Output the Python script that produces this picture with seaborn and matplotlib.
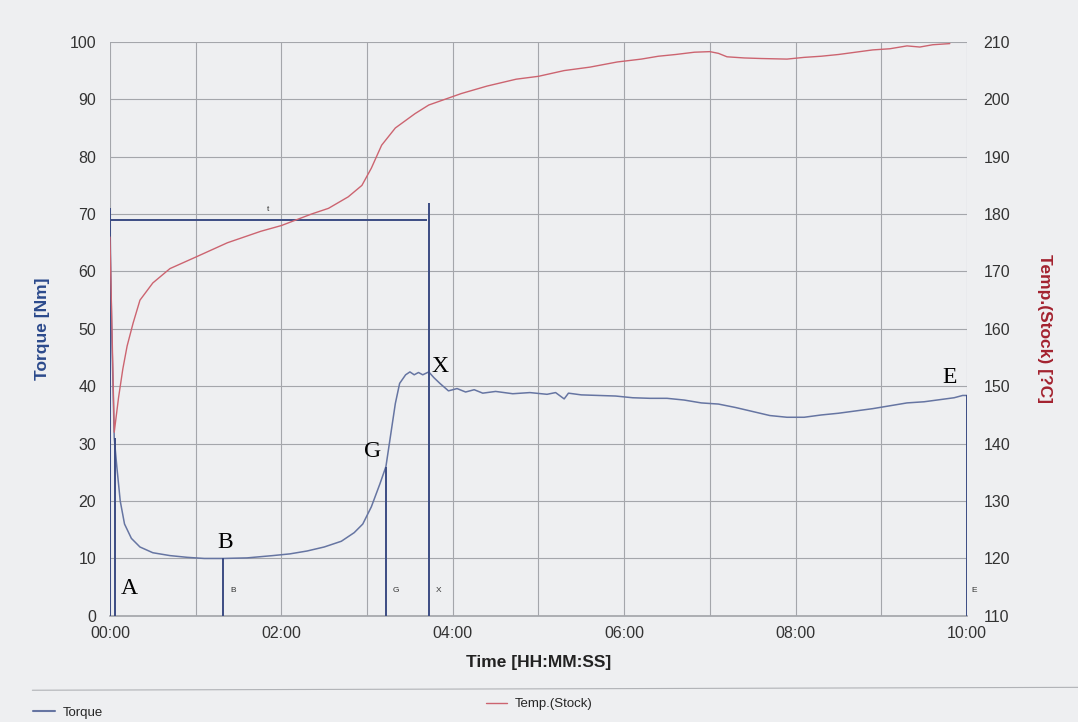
import numpy as np
import pandas as pd
import matplotlib
matplotlib.use("Agg")
import matplotlib.pyplot as plt
from matplotlib.ticker import FuncFormatter
from matplotlib.lines import Line2D
import seaborn as sns

# ---------------- data ----------------
torque_t = [0.00, 0.02, 0.05, 0.08, 0.12, 0.17, 0.25, 0.35, 0.50, 0.70, 0.90, 1.10, 1.32,
            1.60, 1.90, 2.10, 2.30, 2.50, 2.70, 2.85, 2.95, 3.05, 3.15, 3.22, 3.28, 3.33,
            3.38, 3.45, 3.50, 3.55, 3.60, 3.65, 3.72, 3.78, 3.85, 3.95, 4.05, 4.15, 4.25,
            4.35, 4.50, 4.70, 4.90, 5.10, 5.20, 5.30, 5.35, 5.50, 5.70, 5.90, 6.10, 6.30,
            6.50, 6.70, 6.90, 7.10, 7.30, 7.50, 7.70, 7.90, 8.10, 8.30, 8.50, 8.70, 8.90,
            9.10, 9.30, 9.50, 9.70, 9.85, 9.95, 10.00]
torque_v = [69, 50, 31, 26, 20, 16, 13.5, 12, 11, 10.5, 10.2, 10, 10,
            10.1, 10.5, 10.8, 11.3, 12, 13, 14.5, 16, 19, 23, 26, 32, 37,
            40.5, 42, 42.5, 42, 42.4, 42, 42.5, 41.5, 40.5, 39.2, 39.6, 39, 39.4,
            38.8, 39.1, 38.7, 38.9, 38.6, 38.9, 37.8, 38.8, 38.5, 38.4, 38.3, 38.0, 37.9,
            37.9, 37.6, 37.1, 36.9, 36.3, 35.6, 34.9, 34.6, 34.6, 35.0, 35.3, 35.7, 36.1,
            36.6, 37.1, 37.3, 37.7, 38.0, 38.4, 38.4]

temp_t = [0.00, 0.05, 0.10, 0.15, 0.20, 0.27, 0.35, 0.50, 0.70, 1.00, 1.37, 1.76, 2.00,
          2.35, 2.55, 2.78, 2.94, 3.05, 3.17, 3.33, 3.56, 3.72, 4.10, 4.40, 4.74, 5.00,
          5.30, 5.60, 5.92, 6.20, 6.40, 6.60, 6.82, 7.00, 7.10, 7.20, 7.40, 7.60, 7.90,
          8.10, 8.30, 8.50, 8.70, 8.90, 9.10, 9.30, 9.45, 9.60, 9.80]
temp_v = [176, 142, 148, 153, 157, 161, 165, 168, 170.5, 172.5, 175, 177, 178,
          180, 181, 183, 185, 188, 192, 195, 197.5, 199, 201, 202.3, 203.5, 204,
          205, 205.6, 206.5, 207, 207.5, 207.8, 208.2, 208.3, 208.0, 207.4, 207.2, 207.1, 207.0,
          207.3, 207.5, 207.8, 208.2, 208.6, 208.8, 209.3, 209.1, 209.5, 209.7]

marker_t = [0.00, 0.06, 1.32, 3.22, 3.72, 10.00]
marker_top = [71, 31, 10, 26, 72, 38.4]
small_labels = ["", "", "B", "G", "X", "E"]

big_labels = ["A", "B", "G", "X", "E"]
big_label_t = [0.22, 1.35, 3.07, 3.85, 9.80]
big_label_v = [4.7, 12.8, 28.6, 43.4, 41.6]

bracket_y = 69
bracket_t = [0.00, 3.70]

x_ticks_min = list(range(0, 11))
torque_ticks = list(range(0, 101, 10))
temp_ticks = list(range(110, 211, 10))

# ---------------- style ----------------
bg = "#eeeff1"
sns.set_theme(style="whitegrid", rc={"axes.facecolor": bg, "figure.facecolor": bg,
                                     "grid.color": "#a4a6ab", "grid.linewidth": 0.8})
plt.rcParams['font.family'] = ['Liberation Sans', 'DejaVu Sans']

fig = plt.figure(figsize=(10.78, 7.22), dpi=100)
ax = fig.add_axes([0.102, 0.147, 0.795, 0.795])
ax2 = ax.twinx()

torque_col = "#6675a2"
temp_col = "#cc6470"
mark_col = "#3c4c84"

df_t = pd.DataFrame({"t": torque_t, "Torque": torque_v})
df_c = pd.DataFrame({"t": temp_t, "Temp": temp_v})

sns.lineplot(data=df_t, x="t", y="Torque", ax=ax, color=torque_col, lw=1.1, zorder=3)
sns.lineplot(data=df_c, x="t", y="Temp", ax=ax2, color=temp_col, lw=1.0, zorder=3)

# marker lines
ax.vlines(marker_t, 0, marker_top, color=mark_col, lw=1.4, zorder=4)
ax.hlines(bracket_y, bracket_t[0], bracket_t[1], color=mark_col, lw=1.4, zorder=4)
ax.text(sum(bracket_t) / 2, bracket_y + 1.2, "t", fontsize=6, ha="center", va="bottom", color="#333333")
for t, s in zip(marker_t, small_labels):
    if s:
        ax.text(t + 0.08 if t < 9.9 else t + 0.05, 4.5, s, fontsize=6, ha="left", va="center", color="#333333")

for s, t, v in zip(big_labels, big_label_t, big_label_v):
    ax.text(t, v, s, fontsize=17, family=["Liberation Serif", "DejaVu Serif"],
            ha="center", va="center", color="black", zorder=6)

# axes setup
ax.set_xlim(0, 10)
ax.set_ylim(0, 100)
ax2.set_ylim(110, 210)
ax.set_xticks(x_ticks_min)
ax.xaxis.set_major_formatter(FuncFormatter(lambda v, p: f"{int(round(v)):02d}:00" if int(round(v)) % 2 == 0 else ""))
ax.set_yticks(torque_ticks)
ax2.set_yticks(temp_ticks)
ax2.grid(False)
ax.grid(True, color="#a4a6ab", lw=0.8)

for a in (ax, ax2):
    for sp in a.spines.values():
        sp.set_visible(False)
ax.spines["bottom"].set_visible(True)
ax.spines["bottom"].set_color("#a4a6ab")

ax.tick_params(axis="x", labelsize=11.5, colors="#a4a6ab", labelcolor="#333333",
               length=5, width=0.8, direction="inout", pad=5)
ax.tick_params(axis="y", labelsize=11.5, labelcolor="#333333", length=0, pad=10)
ax2.tick_params(axis="y", labelsize=11.5, labelcolor="#333333", length=0, pad=12)

ax.set_xlabel("Time [HH:MM:SS]", fontsize=12.5, fontweight="bold", color="#222222", labelpad=10)
ax.set_ylabel("Torque [Nm]", fontsize=12.5, fontweight="bold", color="#2b4a8c", labelpad=14)
ax2.set_ylabel("Temp.(Stock) [?C]", fontsize=12.5, fontweight="bold", color="#a3222f",
               rotation=270, labelpad=30)

# legend area separator and legend entries
fig.add_artist(Line2D([0.03, 1.0], [0.044, 0.048], transform=fig.transFigure, color="#b0b2b6", lw=0.8))
h1 = Line2D([], [], color=torque_col, lw=1.5)
h2 = Line2D([], [], color=temp_col, lw=1.0)
fig.legend([h1], ["Torque"], loc="lower left", bbox_to_anchor=(0.02, -0.012), frameon=False,
           fontsize=9.5, handlelength=1.6, handletextpad=0.6)
fig.legend([h2], ["Temp.(Stock)"], loc="lower left", bbox_to_anchor=(0.44, 0.0), frameon=False,
           fontsize=9.5, handlelength=1.6, handletextpad=0.6)

fig.savefig("out.png", dpi=100, facecolor=bg)
